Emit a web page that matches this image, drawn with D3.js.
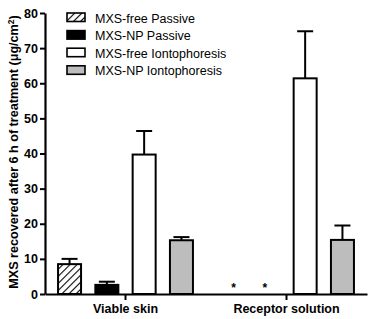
<!DOCTYPE html>
<html>
<head>
<meta charset="utf-8">
<script src="https://cdn.jsdelivr.net/npm/d3@7"></script>
<style>
  body { margin: 0; background: #fff; }
  svg { font-family: "Liberation Sans", Arial, sans-serif; }
</style>
</head>
<body>
<div id="chart"></div>
<script>
// Bars: MXS recovered after 6 h, grouped by compartment
const groups = ["Viable skin", "Receptor solution"];
const series = ["MXS-free Passive", "MXS-NP Passive", "MXS-free Iontophoresis", "MXS-NP Iontophoresis"];
const means = [
  [8.5, 2.6, 39.7, 15.3],
  [0, 0, 61.4, 15.4]
];
const errors = [
  [1.5, 0.9, 6.7, 0.9],
  [0, 0, 13.4, 4.1]
];
const yTicks = [0, 10, 20, 30, 40, 50, 60, 70, 80];
const fills = ["url(#hatch)", "#000", "#fff", "#bdbdbd"];

const width = 371, height = 319;
const margin = { top: 13, right: 4, bottom: 25, left: 45 };
const plot_width = width - margin.left - margin.right;
const plot_height = height - margin.top - margin.bottom;

const svg = d3.select("#chart").append("svg")
  .attr("width", width).attr("height", height);

// hatch pattern for passive free
const pat = svg.append("defs").append("pattern")
  .attr("id", "hatch").attr("patternUnits", "userSpaceOnUse")
  .attr("width", 5).attr("height", 5)
  .attr("patternTransform", "rotate(45)");
pat.append("rect").attr("width", 5).attr("height", 5).attr("fill", "#fff");
pat.append("line").attr("x1", 0).attr("y1", 0).attr("x2", 0).attr("y2", 5)
  .attr("stroke", "#000").attr("stroke-width", 2.2);

const plot = svg.append("g").attr("transform", `translate(${margin.left},${margin.top})`);

const x0 = d3.scaleBand().domain(groups).range([0, plot_width]);
const x1 = d3.scaleBand().domain(series).range([x0.bandwidth() / 2 - 69, x0.bandwidth() / 2 + 69]).paddingInner(0.3);
const y = d3.scaleLinear().domain([0, 80]).range([plot_height, 0]);

// bars
const rows = [];
groups.forEach((g, gi) => series.forEach((s, si) => rows.push({ g, s, si, v: means[gi][si], e: errors[gi][si] })));

const barW = 23;
const gb = plot.selectAll(".bar").data(rows.filter(d => d.v > 0)).join("g");
gb.append("rect")
  .attr("x", d => x0(d.g) + x1(d.s) + x1.bandwidth() / 2 - barW / 2)
  .attr("y", d => y(d.v))
  .attr("width", barW)
  .attr("height", d => y(0) - y(d.v))
  .attr("fill", d => fills[d.si])
  .attr("stroke", "#000").attr("stroke-width", 2);
gb.append("line")
  .attr("x1", d => x0(d.g) + x1(d.s) + x1.bandwidth() / 2)
  .attr("x2", d => x0(d.g) + x1(d.s) + x1.bandwidth() / 2)
  .attr("y1", d => y(d.v)).attr("y2", d => y(d.v + d.e))
  .attr("stroke", "#000").attr("stroke-width", 2);
gb.append("line")
  .attr("x1", d => x0(d.g) + x1(d.s) + x1.bandwidth() / 2 - 8)
  .attr("x2", d => x0(d.g) + x1(d.s) + x1.bandwidth() / 2 + 8)
  .attr("y1", d => y(d.v + d.e)).attr("y2", d => y(d.v + d.e))
  .attr("stroke", "#000").attr("stroke-width", 2);

// asterisks for not detected
plot.selectAll(".star").data(rows.filter(d => d.v === 0)).join("text")
  .attr("x", d => x0(d.g) + x1(d.s) + x1.bandwidth() / 2 + (d.si === 0 ? 3 : -3))
  .attr("y", y(0) - 2)
  .attr("text-anchor", "middle")
  .attr("fill", "#000")
  .style("font-size", "12px").style("font-weight", "bold")
  .text("*");

// axes
const yAxis = plot.append("g").call(d3.axisLeft(y).tickValues(yTicks).tickSize(5).tickSizeOuter(0));
const xAxis = plot.append("g").attr("transform", `translate(0,${plot_height})`)
  .call(d3.axisBottom(x0).tickSize(6).tickSizeOuter(0));
[yAxis, xAxis].forEach(a => {
  a.select(".domain").attr("stroke", "#000").attr("stroke-width", 2.2);
  a.selectAll(".tick line").attr("stroke", "#000").attr("stroke-width", 2);
  a.selectAll(".tick text").attr("fill", "#000")
    .style("font-family", "'Liberation Sans', Arial, sans-serif")
    .style("font-size", "12.5px").style("font-weight", "bold");
});
yAxis.selectAll(".tick text").attr("x", -7);
xAxis.selectAll(".tick text").attr("y", 10);

// y label
svg.append("text")
  .attr("transform", "rotate(-90)")
  .attr("x", -152).attr("y", 18)
  .attr("text-anchor", "middle")
  .style("font-size", "12.6px").style("font-weight", "bold")
  .html('MXS recovered after 6 h of treatment (μg/cm<tspan dy="-4" font-size="8.5px">2</tspan><tspan dy="4">)</tspan>');

// legend
const legend = svg.append("g").attr("transform", "translate(67,13)");
series.forEach((s, i) => {
  const r = legend.append("g").attr("transform", `translate(0,${i * 17.6})`);
  r.append("rect").attr("x", 0).attr("y", 0).attr("width", 18).attr("height", 8.5)
    .attr("fill", fills[i]).attr("stroke", "#000").attr("stroke-width", 1.6);
  r.append("text").attr("x", 28).attr("y", 9.5)
    .style("font-size", "12.5px").text(s);
});
</script>
</body>
</html>
